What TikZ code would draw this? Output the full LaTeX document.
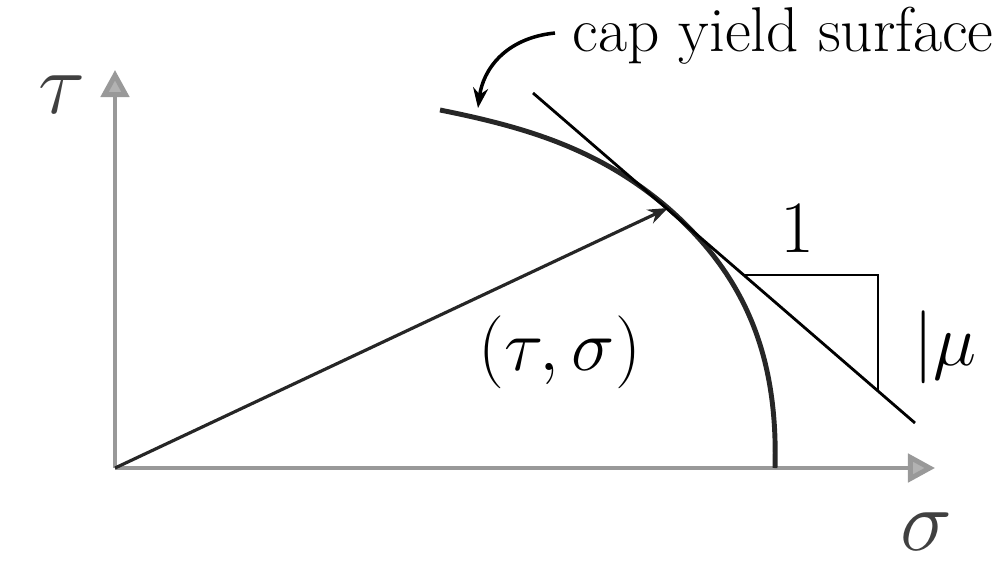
\documentclass[tikz,border=0pt]{standalone}
\usepackage{amsmath}
\usetikzlibrary{positioning,arrows.meta}

\tikzset{axis/.style={line width=1.4pt, draw=black!40, -{Triangle[width=0.28cm,length=0.27cm,fill=black!30]}},
  capline/.style={line width=1.4pt, draw=black!85},
  big/.style={font=\fontsize{20}{24}\selectfont}}

\begin{document}
\begin{tikzpicture}[x=0.01cm,y=-0.01cm]%[scale=2.5]
\useasboundingbox (0,0) rectangle (1003,569);

\coordinate (o) at (115,468);
\coordinate (tauend) at (115,70);
\coordinate (sigend) at (935,468);
\coordinate (p) at (668,208);
\coordinate (c0) at (440,110);
\coordinate (c1) at (775,468);
\coordinate (t0) at (533,93);
\coordinate (t1) at (915,423);
\coordinate (s0) at (744,275);
\coordinate (s1) at (878,275);
\coordinate (s2) at (878,391);
\coordinate (a0) at (555,33);
\coordinate (a1) at (478,108);

\draw[axis] (o) -- (tauend);
\draw[axis] (o) -- (sigend);

\draw[line width=0.9pt, draw=black!85, -{Stealth[length=0.2cm,width=0.15cm,fill=black!45]}] (o) -- (p);
\draw[capline] (c0) .. controls (530,128) and (600,150) .. (p)
  .. controls (748,278) and (778,360) .. (c1);
\draw[line width=0.8pt] (t0) -- (t1);
\draw[line width=0.6pt] (s0) -- (s1) -- (s2);
\draw[line width=1pt, -{Stealth[length=0.2cm,width=0.15cm]}] (a0) .. controls (505,38) and (483,70) .. (a1);

\draw node (tau) at (62,95) [font=\fontsize{28}{30}\selectfont, text=black!75]{$\tau$};
\draw node (sigma) at (926,532) [font=\fontsize{26}{30}\selectfont, text=black!75]{$\sigma$};
\draw node (ts) at (560,352) [big]{$(\tau,\sigma)$};
\draw node (one) at (797,228) [font=\fontsize{21}{24}\selectfont]{1};
\draw node (mu) at (945,347) [font=\fontsize{22}{26}\selectfont]{$|\mu$};
\draw node (cap) at (783,36) [font=\fontsize{18}{22}\selectfont]{cap yield surface};
\end{tikzpicture}
\end{document}
